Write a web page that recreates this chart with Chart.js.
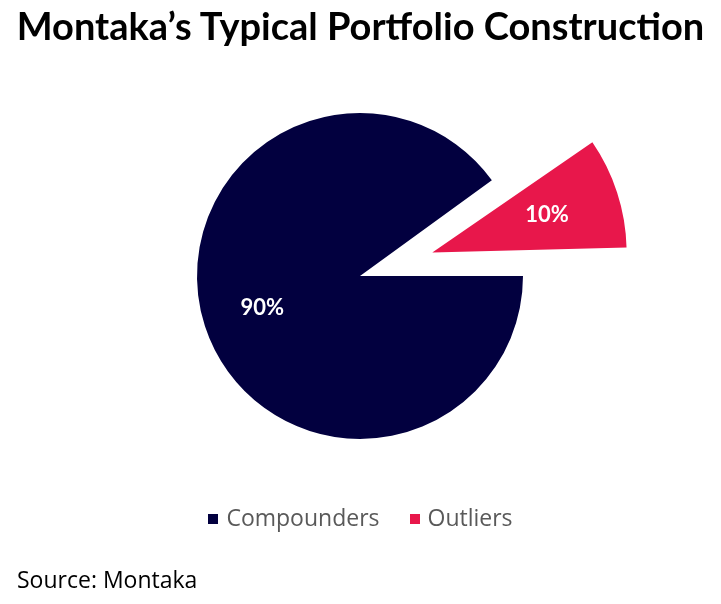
<!DOCTYPE html>
<html>
<head>
<meta charset="utf-8">
<script src="https://cdn.jsdelivr.net/npm/chart.js@4"></script>
<style>
  body { margin: 0; background: #fff; }
  #wrap { position: relative; width: 721px; height: 604px; overflow: hidden; }
  #title { position: absolute; top: 2px; left: 0; width: 721px; text-align: center;
           font: bold 38px Lato, sans-serif; color: #000; }
  #legend { position: absolute; top: 501px; left: 0; width: 721px; text-align: center;
            font: 23px "Open Sans", sans-serif; color: #595959; }
  #legend span.box { display: inline-block; width: 10px; height: 10px; margin: 0 8px 2px 0; }
  #source { position: absolute; top: 563px; left: 17px; font: 23px "Open Sans", sans-serif; color: #000; }
  canvas { position: absolute; top: -39px; left: 45px; }
</style>
</head>
<body>
<div id="wrap">
  <canvas id="chart1" width="630" height="630"></canvas>
  <div id="title">Montaka’s Typical Portfolio Construction</div>
  <div id="legend"><span class="box" style="background:#02003f"></span>Compounders<span style="display:inline-block;width:30px"></span><span class="box" style="background:#e8174b"></span>Outliers</div>
  <div id="source">Source: Montaka</div>
</div>
<script>
const labels = ['Compounders', 'Outliers'];
const values = [90, 10];
const colors = ['#02003f', '#e8174b'];

const pctLabels = {
    id: 'pctLabels',
    afterDatasetsDraw(chart) {
        const ctx = chart.ctx;
        const meta = chart.getDatasetMeta(0);
        ctx.save();
        ctx.fillStyle = '#fff';
        ctx.font = 'bold 22px Lato, sans-serif';
        ctx.textAlign = 'center';
        ctx.textBaseline = 'middle';
        meta.data.forEach((arc, i) => {
            const p = arc.getProps(['x', 'y', 'startAngle', 'endAngle', 'outerRadius']);
            const mid = (p.startAngle + p.endAngle) / 2;
            const off = (arc.options.offset || 0) / 4;
            const d = off + p.outerRadius * (i === 0 ? 0.63 : 0.74);
            ctx.fillText(values[i] + '%', p.x + Math.cos(mid) * d, p.y + Math.sin(mid) * d);
        });
        ctx.restore();
    }
};

new Chart(document.getElementById('chart1'), {
    type: 'pie',
    data: {
        labels: labels,
        datasets: [{
            data: values,
            backgroundColor: colors,
            borderWidth: 0,
            offset: [0, 304]
        }]
    },
    options: {
        responsive: false,
        animation: false,
        rotation: 90,
        layout: { padding: 0 },
        plugins: {
            legend: { display: false },
            tooltip: { enabled: false }
        }
    },
    plugins: [pctLabels]
});
</script>
</body>
</html>
